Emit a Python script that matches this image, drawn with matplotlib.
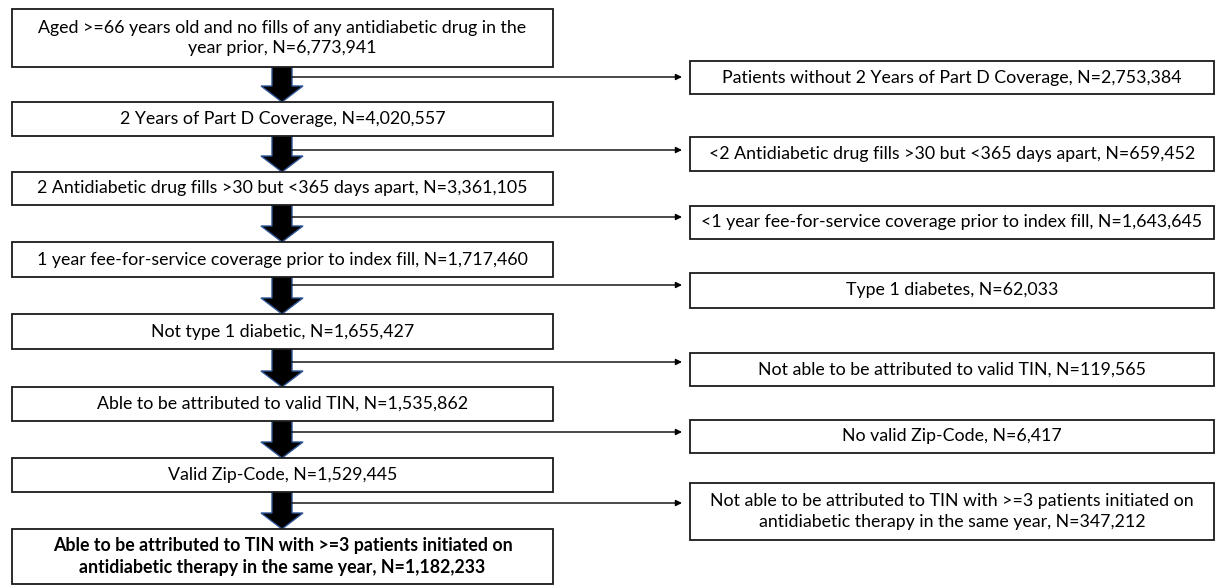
import matplotlib
matplotlib.use("Agg")
import matplotlib.pyplot as plt
from matplotlib.patches import Rectangle, Polygon

# ---- data: flowchart texts ----
left_labels = [
    "Aged >=66 years old and no fills of any antidiabetic drug in the\nyear prior, N=6,773,941",
    "2 Years of Part D Coverage, N=4,020,557",
    "2 Antidiabetic drug fills >30 but <365 days apart, N=3,361,105",
    "1 year fee-for-service coverage prior to index fill, N=1,717,460",
    "Not type 1 diabetic, N=1,655,427",
    "Able to be attributed to valid TIN, N=1,535,862",
    "Valid Zip-Code, N=1,529,445",
    "Able to be attributed to TIN with >=3 patients initiated on\nantidiabetic therapy in the same year, N=1,182,233",
]
right_labels = [
    "Patients without 2 Years of Part D Coverage, N=2,753,384",
    "<2 Antidiabetic drug fills >30 but <365 days apart, N=659,452",
    "<1 year fee-for-service coverage prior to index fill, N=1,643,645",
    "Type 1 diabetes, N=62,033",
    "Not able to be attributed to valid TIN, N=119,565",
    "No valid Zip-Code, N=6,417",
    "Not able to be attributed to TIN with >=3 patients initiated on\nantidiabetic therapy in the same year, N=347,212",
]

# ---- layout (pixel coordinates) ----
W, H = 1224, 586
LX0, LX1 = 12, 553
RX0, RX1 = 690, 1214
left_boxes = [(9, 67), (102, 136), (172, 205), (242, 277), (314, 349),
              (387, 421), (458, 492), (529, 584)]
right_boxes = [(61, 94), (137, 171), (206, 239), (273, 308), (353, 386),
               (420, 453), (483, 540)]
h_arrow_y = [77, 150, 217, 285, 362, 432, 503]
AX = 282          # block arrow centre
SHAFT = 10        # half shaft width
HEAD = 21         # half head width
HEAD_LEN = 16

FONT = "Lato"
FS = 12.8

fig = plt.figure(figsize=(W / 100, H / 100), dpi=100)
ax = fig.add_axes([0, 0, 1, 1])
ax.set_xlim(0, W)
ax.set_ylim(H, 0)
ax.axis("off")

def box(x0, x1, y0, y1, text, bold=False):
    ax.add_patch(Rectangle((x0, y0), x1 - x0, y1 - y0, facecolor="white",
                           edgecolor="#1a1a1a", lw=1.3, zorder=2))
    ax.text((x0 + x1) / 2, (y0 + y1) / 2, text, ha="center", va="center",
            fontsize=FS, family=FONT, fontweight="bold" if bold else "normal",
            linespacing=1.35, color="black", zorder=3)

for i, (lab, (y0, y1)) in enumerate(zip(left_labels, left_boxes)):
    box(LX0, LX1, y0, y1, lab, bold=(i == len(left_labels) - 1))

for lab, (y0, y1) in zip(right_labels, right_boxes):
    box(RX0, RX1, y0, y1, lab)

# block arrows between left boxes
for i in range(len(left_boxes) - 1):
    ytop = left_boxes[i][1]
    ybot = left_boxes[i + 1][0]
    yneck = ybot - HEAD_LEN
    pts = [(AX - SHAFT, ytop), (AX + SHAFT, ytop), (AX + SHAFT, yneck),
           (AX + HEAD, yneck), (AX, ybot), (AX - HEAD, yneck), (AX - SHAFT, yneck)]
    ax.add_patch(Polygon(pts, closed=True, facecolor="black",
                         edgecolor="#2f5597", lw=1.0, zorder=1))

# side arrows to exclusion boxes
for y in h_arrow_y:
    ax.annotate("", xy=(RX0 - 8, y), xytext=(AX + SHAFT, y),
                arrowprops=dict(arrowstyle="-|>", lw=1.0, color="black",
                                mutation_scale=9, shrinkA=0, shrinkB=0),
                zorder=1)

fig.savefig("out.png", dpi=100, facecolor="white")
